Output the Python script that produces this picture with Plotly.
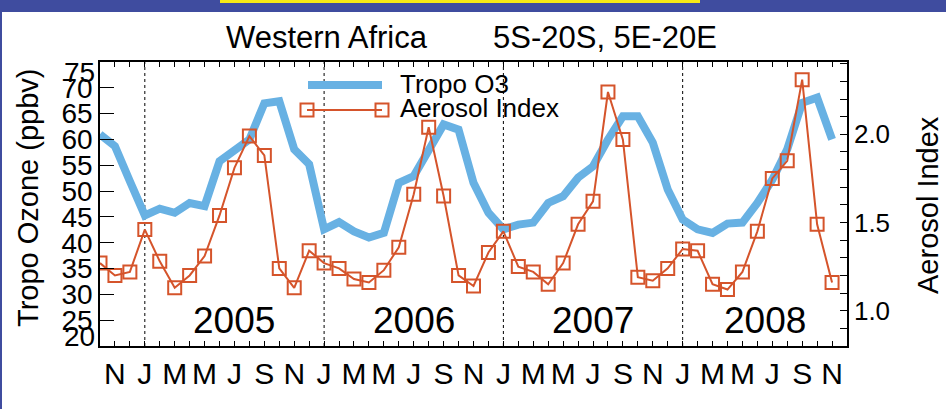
import plotly.graph_objects as go

# Monthly series, Oct 2004 .. Nov 2008
months = [
    "2004-10", "2004-11", "2004-12",
    "2005-01", "2005-02", "2005-03", "2005-04", "2005-05", "2005-06",
    "2005-07", "2005-08", "2005-09", "2005-10", "2005-11", "2005-12",
    "2006-01", "2006-02", "2006-03", "2006-04", "2006-05", "2006-06",
    "2006-07", "2006-08", "2006-09", "2006-10", "2006-11", "2006-12",
    "2007-01", "2007-02", "2007-03", "2007-04", "2007-05", "2007-06",
    "2007-07", "2007-08", "2007-09", "2007-10", "2007-11", "2007-12",
    "2008-01", "2008-02", "2008-03", "2008-04", "2008-05", "2008-06",
    "2008-07", "2008-08", "2008-09", "2008-10", "2008-11",
]

tropo_o3 = [
    61.0, 58.7, 51.9,
    45.3, 46.6, 45.8, 47.7, 47.1, 55.8, 57.7, 60.0, 67.0, 67.4, 58.1, 55.2,
    42.6, 44.0, 42.2, 41.0, 41.9, 51.6, 52.9, 58.1, 62.9, 61.9, 51.6, 45.8,
    42.6, 43.5, 43.9, 47.7, 49.0, 52.6, 54.8, 60.0, 64.5, 64.5, 59.4, 50.3,
    44.5, 42.6, 41.9, 43.7, 43.9, 47.7, 52.2, 58.1, 67.1, 68.1, 60.0,
]

aerosol_index = [
    1.27, 1.20, 1.22,
    1.46, 1.28, 1.13, 1.20, 1.31, 1.54, 1.81, 1.99, 1.88, 1.24, 1.13, 1.34,
    1.27, 1.24, 1.18, 1.16, 1.23, 1.36, 1.66, 2.04, 1.65, 1.20, 1.14, 1.33,
    1.45, 1.25, 1.22, 1.15, 1.27, 1.49, 1.62, 2.24, 1.97, 1.19, 1.17, 1.24,
    1.35, 1.34, 1.15, 1.12, 1.22, 1.45, 1.75, 1.85, 2.31, 1.49, 1.16,
]

# Bimonthly axis labels, Nov 2004 .. Nov 2008
month_labels = ["N", "J", "M", "M", "J", "S"] * 4 + ["N"]
years = ["2005", "2006", "2007", "2008"]

ozone_ticks = [20, 25, 30, 35, 40, 45, 50, 55, 60, 65, 70, 75]
ai_ticks = [1.0, 1.5, 2.0]

# ---------------------------------------------------------------------------
x = list(range(len(months)))
label_pos = x[1::2]
jan_pos = [i for i, m in enumerate(months) if m.endswith("-01")]
year_pos = [jan_pos[k] + 6 for k in range(len(years))]
year_pos[-1] -= 0.5

BLUE = "#68b1e3"
RED = "#d5542b"
FONT = "Liberation Sans"
W, H = 946, 409
L, R, T, B = 100, 847, 62, 346


def px(v):
    return (v - L) / (R - L)


def py(v):
    return (B - v) / (B - T)


fig = go.Figure()
fig.add_trace(go.Scatter(
    x=x, y=tropo_o3, mode="lines", name="Tropo O3",
    line=dict(color=BLUE, width=8), yaxis="y",
))
fig.add_trace(go.Scatter(
    x=x, y=aerosol_index, mode="lines+markers", name="Aerosol Index",
    line=dict(color=RED, width=2),
    marker=dict(symbol="square-open", size=13, color=RED, line=dict(width=2)),
    yaxis="y2",
))

shapes = []
# page frame: blue header band with yellow tab and thin left edge
shapes.append(dict(type="rect", xref="paper", yref="paper",
                   x0=px(0), x1=px(W), y0=py(12), y1=py(0),
                   fillcolor="#3f4c9f", line=dict(width=0), layer="below"))
shapes.append(dict(type="rect", xref="paper", yref="paper",
                   x0=px(220), x1=px(700), y0=py(3), y1=py(0),
                   fillcolor="#f6e816", line=dict(width=0), layer="below"))
shapes.append(dict(type="rect", xref="paper", yref="paper",
                   x0=px(0), x1=px(2), y0=py(H), y1=py(0),
                   fillcolor="#3f4c9f", line=dict(width=0), layer="below"))
# January separators
for j in jan_pos:
    shapes.append(dict(type="line", xref="x", yref="paper", x0=j, x1=j,
                       y0=0, y1=1, line=dict(color="black", width=1, dash="dot"),
                       layer="below"))
# legend glyphs
shapes.append(dict(type="line", xref="paper", yref="paper",
                   x0=px(308), x1=px(382), y0=py(85), y1=py(85),
                   line=dict(color=BLUE, width=8)))
shapes.append(dict(type="line", xref="paper", yref="paper",
                   x0=px(307), x1=px(382), y0=py(110), y1=py(110),
                   line=dict(color=RED, width=2)))
for cx in (307, 382):
    shapes.append(dict(type="rect", xref="paper", yref="paper",
                       x0=px(cx - 6.5), x1=px(cx + 6.5),
                       y0=py(110 + 6.5), y1=py(110 - 6.5),
                       line=dict(color=RED, width=2)))

annotations = []
annotations.append(dict(text="Western Africa", xref="paper", yref="paper",
                        x=px(327), y=py(38), showarrow=False,
                        xanchor="center", yanchor="middle",
                        font=dict(family=FONT, size=31, color="black")))
annotations.append(dict(text="5S-20S, 5E-20E", xref="paper", yref="paper",
                        x=px(605), y=py(38), showarrow=False,
                        xanchor="center", yanchor="middle",
                        font=dict(family=FONT, size=31, color="black")))
annotations.append(dict(text="Tropo O3", xref="paper", yref="paper",
                        x=px(398), y=py(84), showarrow=False,
                        xanchor="left", yanchor="middle",
                        font=dict(family=FONT, size=26, color="black")))
annotations.append(dict(text="Aerosol Index", xref="paper", yref="paper",
                        x=px(398), y=py(108), showarrow=False,
                        xanchor="left", yanchor="middle",
                        font=dict(family=FONT, size=26, color="black")))
annotations.append(dict(text="Tropo Ozone (ppbv)", xref="paper", yref="paper",
                        x=px(28), y=py(198), showarrow=False, textangle=-90,
                        xanchor="center", yanchor="middle",
                        font=dict(family=FONT, size=29, color="black")))
annotations.append(dict(text="Aerosol Index", xref="paper", yref="paper",
                        x=px(928), y=py(205), showarrow=False, textangle=-90,
                        xanchor="center", yanchor="middle",
                        font=dict(family=FONT, size=29, color="black")))
# end labels of the ozone axis sit nudged inside the frame
annotations.append(dict(text=str(ozone_ticks[-1]), xref="paper", yref="paper",
                        x=px(97), y=py(72.5), showarrow=False,
                        xanchor="right", yanchor="middle",
                        font=dict(family=FONT, size=28, color="black")))
annotations.append(dict(text=str(ozone_ticks[0]), xref="paper", yref="paper",
                        x=px(97), y=py(336.5), showarrow=False,
                        xanchor="right", yanchor="middle",
                        font=dict(family=FONT, size=28, color="black")))
for yr, xp in zip(years, year_pos):
    annotations.append(dict(text=yr, xref="x", yref="y", x=xp, y=25,
                            showarrow=False, xanchor="center", yanchor="middle",
                            font=dict(family=FONT, size=37, color="black")))

ozone_text = [str(v) for v in ozone_ticks]
ozone_text[0] = ""
ozone_text[-1] = ""

fig.update_layout(
    width=W, height=H,
    margin=dict(l=L, r=W - R, t=T, b=H - B, pad=0),
    paper_bgcolor="white", plot_bgcolor="white",
    showlegend=False,
    font=dict(family=FONT, color="black"),
    shapes=shapes, annotations=annotations,
    xaxis=dict(
        range=[0, len(months)], tickmode="array",
        tickvals=label_pos, ticktext=month_labels,
        ticks="inside", ticklen=5, tickwidth=1, tickcolor="black",
        minor=dict(dtick=1, tick0=0, ticks="inside", ticklen=5,
                   tickwidth=1, tickcolor="black"),
        showline=True, linecolor="black", linewidth=1.5, mirror="ticks",
        showgrid=False, zeroline=False,
        tickfont=dict(family=FONT, size=30, color="black"),
    ),
    yaxis=dict(
        range=[20, 75], tickmode="array",
        tickvals=ozone_ticks, ticktext=ozone_text,
        ticks="inside", ticklen=14, tickwidth=1, tickcolor="black",
        showline=True, linecolor="black", linewidth=1.5,
        showgrid=False, zeroline=False,
        tickfont=dict(family=FONT, size=28, color="black"),
    ),
    yaxis2=dict(
        range=[0.8, 2.41], overlaying="y", side="right", tickmode="array",
        tickvals=ai_ticks, ticktext=[f"{v:.1f}" for v in ai_ticks],
        ticks="inside", ticklen=7, tickwidth=1, tickcolor="black",
        minor=dict(dtick=0.1, tick0=0, ticks="inside", ticklen=7,
                   tickwidth=1, tickcolor="black"),
        showline=True, linecolor="black", linewidth=1.5,
        showgrid=False, zeroline=False,
        tickfont=dict(family=FONT, size=26, color="black"),
    ),
)

fig.write_html("out.html")
